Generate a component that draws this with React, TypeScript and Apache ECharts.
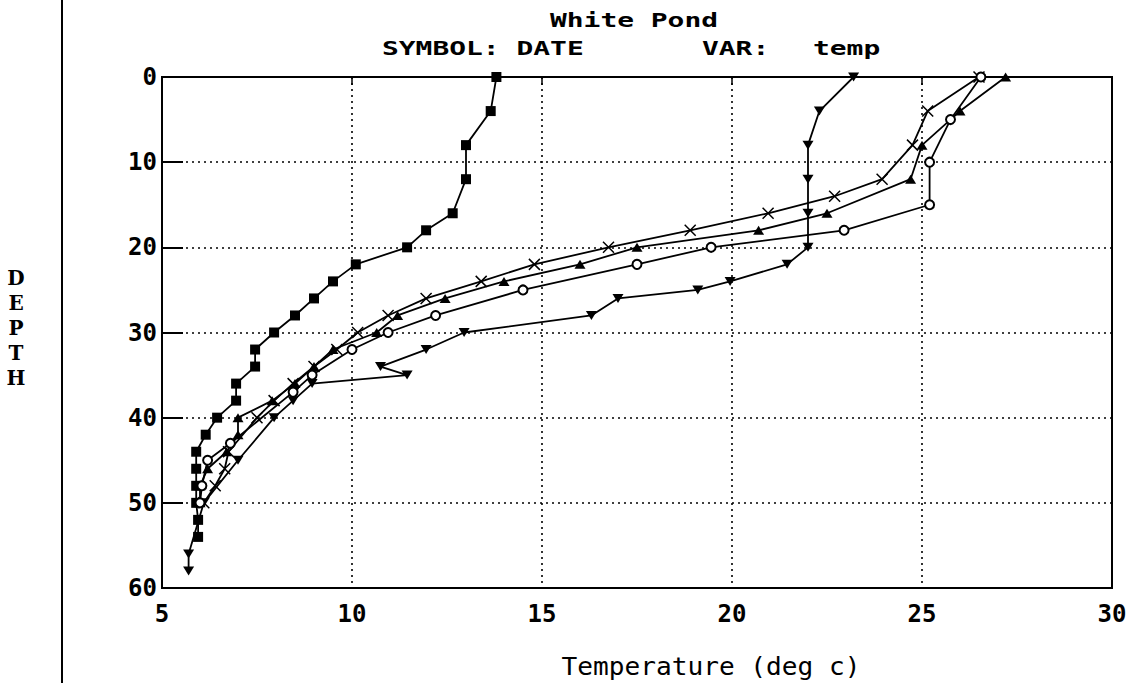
import React, { useEffect, useRef } from "react";
import * as echarts from "echarts";

// Axis ranges / ticks
const tempTicks = [5, 10, 15, 20, 25, 30];
const depthTicks = [0, 10, 20, 30, 40, 50, 60];

// Series: filled squares
const sqDepth = [0, 4, 8, 12, 16, 18, 20, 22, 24, 26, 28, 30, 32, 34, 36, 38, 40, 42, 44, 46, 48, 50, 52, 54];
const sqTemp = [13.8, 13.65, 13.0, 13.0, 12.65, 11.95, 11.45, 10.1, 9.5, 9.0, 8.5, 7.95, 7.45, 7.45, 6.95, 6.95, 6.45, 6.15, 5.9, 5.9, 5.9, 5.9, 5.95, 5.95];

// Series: inverted triangles
const dnDepth = [0, 4, 8, 12, 16, 20, 22, 24, 25, 26, 28, 30, 32, 34, 35, 36, 38, 40, 45, 50, 56, 58];
const dnTemp = [23.2, 22.3, 22.0, 22.0, 22.0, 22.0, 21.45, 19.95, 19.1, 17.0, 16.3, 12.95, 11.95, 10.75, 11.45, 8.95, 8.45, 7.95, 7.0, 6.1, 5.7, 5.7];

// Series: crosses
const xDepth = [0, 4, 8, 12, 14, 16, 18, 20, 22, 24, 26, 28, 30, 32, 34, 36, 38, 40, 44, 46, 48, 50];
const xTemp = [26.5, 25.15, 24.75, 23.95, 22.7, 20.95, 18.9, 16.75, 14.8, 13.4, 11.95, 10.95, 10.15, 9.6, 9.0, 8.45, 7.95, 7.5, 6.75, 6.65, 6.4, 6.1];

// Series: triangles
const upDepth = [0, 4, 8, 12, 16, 18, 20, 22, 24, 26, 28, 30, 32, 34, 36, 38, 40, 42, 44, 46, 48, 50];
const upTemp = [27.2, 26.0, 25.0, 24.7, 22.5, 20.7, 17.5, 16.0, 14.0, 12.45, 11.2, 10.65, 9.5, 9.0, 8.5, 7.9, 7.0, 7.0, 6.7, 6.2, 6.0, 6.0];

// Series: open circles
const ciDepth = [0, 5, 10, 15, 18, 20, 22, 25, 28, 30, 32, 35, 37, 43, 45, 48, 50];
const ciTemp = [26.55, 25.75, 25.2, 25.2, 22.95, 19.45, 17.5, 14.5, 12.2, 10.95, 10.0, 8.95, 8.45, 6.8, 6.2, 6.05, 6.0];

const pairs = (t: number[], d: number[]) => d.map((v, i) => [t[i], v]);

const MONO = "'DejaVu Sans Mono', 'Liberation Mono', monospace";

export default function App() {
  const ref = useRef<HTMLDivElement>(null);
  useEffect(() => {
    if (!ref.current) return;
    const chart = echarts.init(ref.current, null, { renderer: "svg" });
    const lineStyle = { color: "#000", width: 1.8 };
    const base = {
      type: "line" as const,
      lineStyle,
      showSymbol: true,
      symbolKeepAspect: true,
    };
    chart.setOption({
      animation: false,
      backgroundColor: "#fff",
      grid: {
        left: 162,
        right: 22,
        top: 77,
        bottom: 95,
        show: true,
        borderColor: "#000",
        borderWidth: 2,
        containLabel: false,
      },
      xAxis: {
        type: "value",
        min: tempTicks[0],
        max: tempTicks[tempTicks.length - 1],
        interval: 5,
        axisLine: { show: true, lineStyle: { color: "#000", width: 2 } },
        axisTick: { show: true, length: 8, lineStyle: { color: "#000", width: 1.5 } },
        axisLabel: {
          color: "#000",
          fontFamily: MONO,
          fontWeight: "bold",
          fontSize: 24,
          margin: 14,
        },
        splitLine: { show: true, lineStyle: { color: "#000", width: 1.6, type: [2, 4] } },
      },
      yAxis: {
        type: "value",
        inverse: true,
        min: depthTicks[0],
        max: depthTicks[depthTicks.length - 1],
        interval: 10,
        axisLine: { show: true, lineStyle: { color: "#000", width: 2 } },
        axisTick: { show: true, inside: true, length: 21, lineStyle: { color: "#000", width: 2 } },
        axisLabel: {
          color: "#000",
          fontFamily: MONO,
          fontWeight: "bold",
          fontSize: 24,
          margin: 5,
        },
        splitLine: { show: true, lineStyle: { color: "#000", width: 1.6, type: [2, 4] } },
      },
      graphic: [
        { type: "line", shape: { x1: 62, y1: 0, x2: 62, y2: 683 }, style: { stroke: "#000", lineWidth: 2 } },
        {
          type: "text", x: 634, y: 21, scaleX: 1.47,
          style: { text: "White Pond", fill: "#000", font: `bold 19px ${MONO}`, textAlign: "center", textVerticalAlign: "middle" },
        },
        {
          type: "text", x: 382, y: 49, scaleX: 1.47,
          style: { text: "SYMBOL: DATE", fill: "#000", font: `bold 19px ${MONO}`, textAlign: "left", textVerticalAlign: "middle" },
        },
        {
          type: "text", x: 702, y: 49, scaleX: 1.47,
          style: { text: "VAR:", fill: "#000", font: `bold 19px ${MONO}`, textAlign: "left", textVerticalAlign: "middle" },
        },
        {
          type: "text", x: 813, y: 49, scaleX: 1.47,
          style: { text: "temp", fill: "#000", font: `bold 19px ${MONO}`, textAlign: "left", textVerticalAlign: "middle" },
        },
        {
          type: "text", x: 711, y: 667, scaleX: 1.09,
          style: { text: "Temperature (deg c)", fill: "#000", font: `24px ${MONO}`, textAlign: "center", textVerticalAlign: "middle" },
        },
        {
          type: "text", x: 16, y: 328,
          style: {
            text: "D\nE\nP\nT\nH", fill: "#000", font: "bold 20px 'DejaVu Serif', serif",
            textAlign: "center", textVerticalAlign: "middle", lineHeight: 25,
          },
        },
      ],
      series: [
        {
          ...base, name: "sq", data: pairs(sqTemp, sqDepth),
          symbol: "rect", symbolSize: 10,
          itemStyle: { color: "#000", borderColor: "#000", borderWidth: 0 },
        },
        {
          ...base, name: "down", data: pairs(dnTemp, dnDepth),
          symbol: "triangle", symbolRotate: 180, symbolSize: [11, 9],
          itemStyle: { color: "#000", borderColor: "#000", borderWidth: 0 },
        },
        {
          ...base, name: "cross", data: pairs(xTemp, xDepth),
          symbol: "path://M0,0L10,10M10,0L0,10", symbolSize: 11,
          itemStyle: { color: "#000", borderColor: "#000", borderWidth: 1.5 },
        },
        {
          ...base, name: "up", data: pairs(upTemp, upDepth),
          symbol: "triangle", symbolSize: [11, 9],
          itemStyle: { color: "#000", borderColor: "#000", borderWidth: 0 },
        },
        {
          ...base, name: "circle", data: pairs(ciTemp, ciDepth),
          symbol: "emptyCircle", symbolSize: 9,
          itemStyle: { color: "#000", borderColor: "#000", borderWidth: 1.5 },
        },
      ],
    });
    return () => chart.dispose();
  }, []);
  return (
    <div
      ref={ref}
      style={{ position: "fixed", left: 0, top: 0, width: 1134, height: 683, background: "#fff" }}
    />
  );
}
